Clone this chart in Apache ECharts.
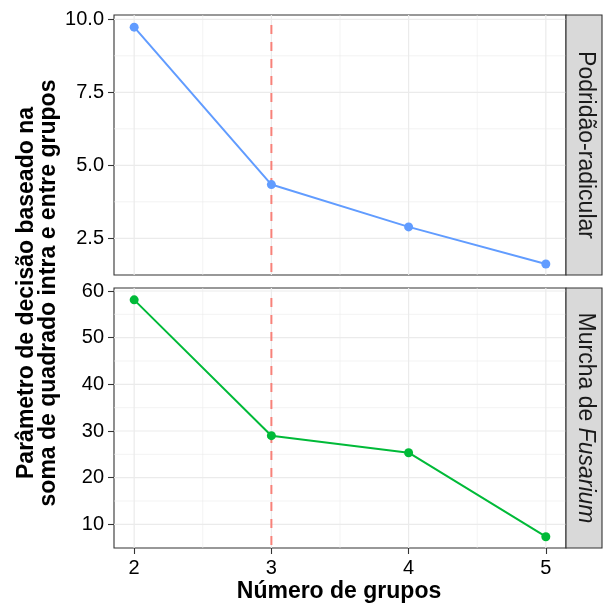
<!DOCTYPE html>
<html>
<head>
<meta charset="utf-8">
<script src="https://cdn.jsdelivr.net/npm/echarts@6/dist/echarts.min.js"></script>
<style>html,body{margin:0;padding:0;background:#fff}#c{width:603px;height:607px}</style>
</head>
<body>
<div id="c"></div>
<script>
// ---- data ----
const groups = [2, 3, 4, 5];
const podridao = [9.73, 4.34, 2.89, 1.62];
const murcha = [58.1, 29.0, 25.35, 7.35];
const xTicks = [2, 3, 4, 5];
const xMinor = [2.5, 3.5, 4.5];
const yTicksTop = [2.5, 5.0, 7.5, 10.0];
const yMinorTop = [3.75, 6.25, 8.75];
const yTicksBot = [10, 20, 30, 40, 50, 60];
const yMinorBot = [15, 25, 35, 45, 55];
const chosenK = [3];
const stripLabels = ['Podridão-radicular', 'Murcha de ', 'Fusarium'];
const yTitle = ['Parâmetro de decisão baseado na', 'soma de quadrado intra e entre grupos'];
const xTitle = 'Número de grupos';

const FONT = 'Liberation Sans';
const chart = echarts.init(document.getElementById('c'), null, {renderer: 'canvas'});

const G = [{left: 114, top: 15, width: 452, height: 260}, {left: 114, top: 288, width: 452, height: 260}];

function gridLines(idx, vals, dir, w) {
  return {
    type: 'custom', xAxisIndex: idx, yAxisIndex: idx, silent: true, z: 1, animation: false,
    data: vals.map(v => dir === 'v' ? [v, 0] : [2, v]),
    renderItem: function (params, api) {
      const cs = params.coordSys;
      const p = api.coord([api.value(0), api.value(1)]);
      const shape = dir === 'v'
        ? {x1: p[0], y1: cs.y, x2: p[0], y2: cs.y + cs.height}
        : {x1: cs.x, y1: p[1], x2: cs.x + cs.width, y2: p[1]};
      return {type: 'line', shape: shape, style: {stroke: '#ebebeb', lineWidth: w}};
    }
  };
}
function vline(idx) {
  return {
    type: 'custom', xAxisIndex: idx, yAxisIndex: idx, silent: true, z: 2, animation: false,
    data: chosenK.map(v => [v, 0]),
    renderItem: function (params, api) {
      const cs = params.coordSys;
      const p = api.coord([api.value(0), api.value(1)]);
      return {type: 'line', shape: {x1: p[0], y1: cs.y + 10, x2: p[0], y2: cs.y + cs.height},
        style: {stroke: '#F8766D', lineWidth: 2, lineDash: [9, 8], opacity: 0.9}};
    }
  };
}
function dataSeries(idx, vals, color) {
  return {
    type: 'line', xAxisIndex: idx, yAxisIndex: idx, z: 3, animation: false,
    data: groups.map((g, i) => [g, vals[i]]),
    symbol: 'circle', symbolSize: 9, showSymbol: true,
    lineStyle: {color: color, width: 2},
    itemStyle: {color: color}
  };
}

const labelStyle = {color: '#000', fontSize: 20, fontFamily: FONT};
const tickStyle = {color: '#333333', width: 1.1};

const option = {
  backgroundColor: '#fff',
  animation: false,
  grid: G.map(g => Object.assign({show: true, borderColor: '#333333', borderWidth: 1.1, backgroundColor: '#fff', containLabel: false}, g)),
  xAxis: [
    {gridIndex: 0, type: 'value', min: 1.853, max: 5.147, axisLine: {show: false}, splitLine: {show: false},
      axisTick: {show: false}, axisLabel: {show: false}},
    {gridIndex: 1, type: 'value', min: 1.853, max: 5.147, axisLine: {show: false}, splitLine: {show: false},
      axisTick: {show: true, customValues: xTicks, length: 6, lineStyle: tickStyle},
      axisLabel: Object.assign({show: true, customValues: xTicks, margin: 10}, labelStyle)}
  ],
  yAxis: [
    {gridIndex: 0, type: 'value', min: 1.243, max: 10.147, axisLine: {show: false}, splitLine: {show: false},
      axisTick: {show: true, customValues: yTicksTop, length: 6, lineStyle: tickStyle},
      axisLabel: Object.assign({show: true, customValues: yTicksTop, margin: 10, formatter: v => Number(v).toFixed(1)}, labelStyle)},
    {gridIndex: 1, type: 'value', min: 4.93, max: 60.64, axisLine: {show: false}, splitLine: {show: false},
      axisTick: {show: true, customValues: yTicksBot, length: 6, lineStyle: tickStyle},
      axisLabel: Object.assign({show: true, customValues: yTicksBot, margin: 10}, labelStyle)}
  ],
  series: [
    gridLines(0, xMinor, 'v', 0.6), gridLines(0, yMinorTop, 'h', 0.6),
    gridLines(0, xTicks, 'v', 1.2), gridLines(0, yTicksTop, 'h', 1.2),
    gridLines(1, xMinor, 'v', 0.6), gridLines(1, yMinorBot, 'h', 0.6),
    gridLines(1, xTicks, 'v', 1.2), gridLines(1, yTicksBot, 'h', 1.2),
    vline(0), vline(1),
    dataSeries(0, podridao, '#619CFF'),
    dataSeries(1, murcha, '#00BA38')
  ],
  graphic: [
    {type: 'rect', shape: {x: 566, y: 15, width: 36, height: 260}, style: {fill: '#d9d9d9', stroke: '#333333', lineWidth: 1.1}, z: 10},
    {type: 'rect', shape: {x: 566, y: 288, width: 36, height: 260}, style: {fill: '#d9d9d9', stroke: '#333333', lineWidth: 1.1}, z: 10},
    {type: 'text', x: 585, y: 145, rotation: -Math.PI / 2, z: 11,
      style: {text: stripLabels[0], fill: '#1a1a1a', font: '23px "Liberation Sans"', align: 'center', verticalAlign: 'middle'}},
    {type: 'text', x: 585, y: 418, rotation: -Math.PI / 2, z: 11,
      style: {text: '{n|' + stripLabels[1] + '}{i|' + stripLabels[2] + '}', align: 'center', verticalAlign: 'middle',
        rich: {n: {fill: '#1a1a1a', fontSize: 23, fontFamily: FONT}, i: {fill: '#1a1a1a', fontSize: 23, fontFamily: FONT, fontStyle: 'italic'}}}},
    {type: 'text', x: 38, y: 293, rotation: Math.PI / 2, z: 11,
      style: {text: yTitle.join('\n'), fill: '#000', font: 'bold 23px "Liberation Sans"', align: 'center', verticalAlign: 'middle', lineHeight: 22}},
    {type: 'text', x: 339, y: 592, z: 11,
      style: {text: xTitle, fill: '#000', font: 'bold 23px "Liberation Sans"', align: 'center', verticalAlign: 'middle'}}
  ]
};
chart.setOption(option);
</script>
</body>
</html>
